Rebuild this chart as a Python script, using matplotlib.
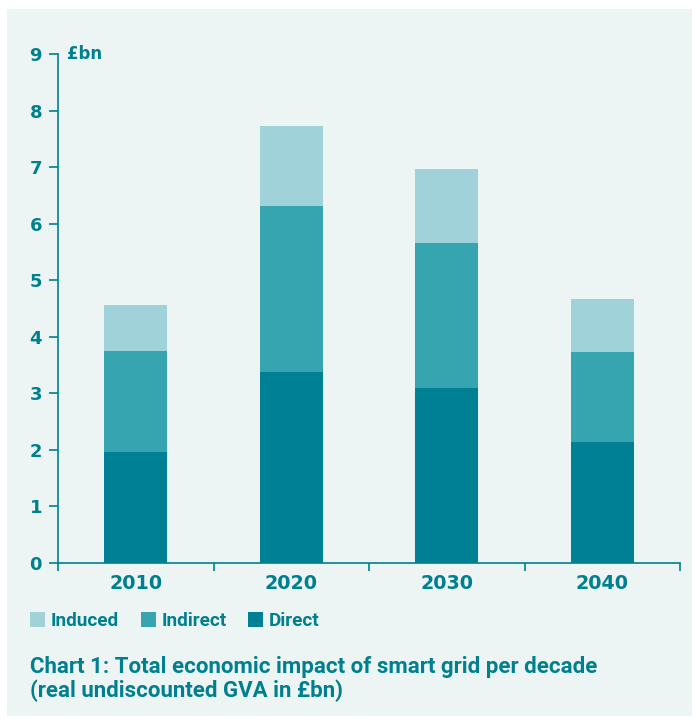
from matplotlib import pyplot as plt
from matplotlib.patches import Rectangle
import numpy as np

# GVA per decade, £bn
decades = ['2010', '2020', '2030', '2040']
direct = [1.96, 3.37, 3.09, 2.14]
indirect = [1.79, 2.94, 2.56, 1.59]
induced = [0.81, 1.41, 1.31, 0.93]

caption = ['Chart 1: Total economic impact of smart grid per decade',
           '(real undiscounted GVA in £bn)']

c_direct = '#008094'
c_indirect = '#37a5b0'
c_induced = '#a0d3d9'
c_text = '#00808f'
c_bg = '#edf5f4'

num_font = 'DejaVu Sans'
txt_font = 'Roboto'

W, H = 694, 722
fig = plt.figure(figsize=(W / 100, H / 100), dpi=100)
fig.patch.set_facecolor('white')
fig.patches.append(Rectangle((7 / W, 1 - 716 / H), 685 / W, 707 / H,
                             transform=fig.transFigure, facecolor=c_bg,
                             edgecolor='none', zorder=-5))

ax = fig.add_axes([58 / W, 1 - 563 / H, 622 / W, 509 / H])
ax.set_zorder(2)
ax.set_facecolor('none')

x = np.arange(len(decades))
w = 0.405
ax.bar(x, direct, w, color=c_direct, label='Direct')
ax.bar(x, indirect, w, bottom=direct, color=c_indirect, label='Indirect')
ax.bar(x, induced, w, bottom=np.add(direct, indirect), color=c_induced, label='Induced')

ax.set_xlim(-0.5, 3.5)
ax.set_ylim(0, 9)
ax.set_yticks(range(10))
ax.set_yticklabels([str(i) for i in range(10)], fontsize=13, fontweight='bold',
                   color=c_text, family=num_font)
ax.set_xticks(x)
ax.set_xticklabels(decades, fontsize=13.8, fontweight='bold', color=c_text, family=num_font)
ax.set_xticks(np.arange(-0.5, 4, 1), minor=True)
ax.tick_params(axis='x', which='major', length=0, pad=8)
ax.tick_params(axis='x', which='minor', length=6, width=1.2, color=c_text, direction='out')
ax.tick_params(axis='y', length=6.5, width=1.2, color=c_text, pad=5)
for s in ['top', 'right']:
    ax.spines[s].set_visible(False)
for s in ['left', 'bottom']:
    ax.spines[s].set_color(c_text)
    ax.spines[s].set_linewidth(1.2)

ax.text(0.014, 1.0, '£bn', transform=ax.transAxes, fontsize=12, fontweight='bold',
        color=c_text, va='center', ha='left', family=num_font)

# legend below the axes
handles, labels = ax.get_legend_handles_labels()
leg = fig.legend(handles[::-1], labels[::-1], loc='center left',
                 bbox_to_anchor=(13 / W, 1 - 621 / H), ncol=3, frameon=False,
                 prop={'family': txt_font, 'size': 13.6, 'weight': 'bold'},
                 handlelength=0.8, handleheight=0.8, handletextpad=0.3,
                 columnspacing=1.15)
for t in leg.get_texts():
    t.set_color(c_text)

for line, base in zip(caption, [673, 697]):
    fig.text(30 / W, 1 - base / H, line, fontsize=16, fontweight='bold', color=c_text,
             va='baseline', ha='left', family=txt_font)

fig.savefig('out.png', dpi=100)
